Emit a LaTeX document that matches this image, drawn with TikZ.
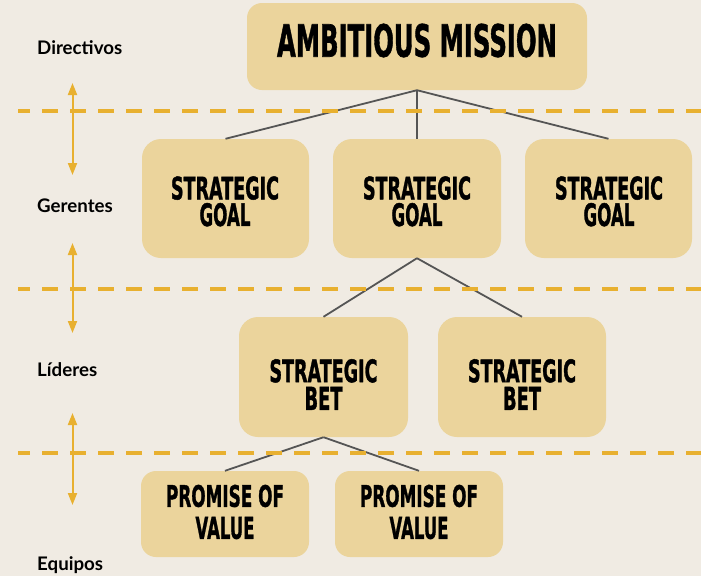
\documentclass[tikz,border=0pt]{standalone}
\usepackage{fontspec}
\usepackage{graphicx}
\usetikzlibrary{arrows.meta}
\newfontfamily\labfont{Lato}
\newfontfamily\heavyfont{DejaVu Sans}[BoldFeatures={FakeBold=1.5}]
\definecolor{bg}{HTML}{F0EBE3}
\definecolor{boxc}{HTML}{EBD49C}
\definecolor{dashc}{HTML}{E8B030}
\definecolor{linec}{HTML}{555555}
\newcommand{\hv}[3]{\resizebox{#1pt}{#2pt}{\heavyfont\bfseries #3}}
\begin{document}
\begin{tikzpicture}[x=1pt,y=-1pt,
  card/.style={fill=boxc, draw=none, rounded corners=#1, inner sep=0pt},
  txt/.style={inner sep=0pt, align=center, text=black},
  lab/.style={inner sep=0pt, anchor=base west, text=black, font=\labfont\bfseries\fontsize{18.7}{22}\selectfont},
  conn/.style={draw=linec, line width=1.8pt},
  dline/.style={draw=dashc, line width=4pt, dash pattern=on 16pt off 12pt, dash phase=4pt},
  varr/.style={draw=dashc, line width=2pt, {Triangle[width=9pt,length=12pt]}-{Triangle[width=9pt,length=12pt]}}]
\fill[bg] (0,0) rectangle (701,576);
\useasboundingbox (0,0) rectangle (701,576);

% boxes
\node[card=15pt, minimum width=340pt, minimum height=87pt] (mission) at (417,46.5) {};
\node[card=19pt, minimum width=167pt, minimum height=119pt] (g1) at (225.5,198.5) {};
\node[card=19pt, minimum width=168pt, minimum height=119pt] (g2) at (417,198.5) {};
\node[card=19pt, minimum width=167pt, minimum height=119pt] (g3) at (608.5,198.5) {};
\node[card=19pt, minimum width=169pt, minimum height=120pt] (b1) at (323.5,377) {};
\node[card=19pt, minimum width=168pt, minimum height=120pt] (b2) at (522,377) {};
\node[card=15pt, minimum width=168pt, minimum height=86pt] (p1) at (225,514) {};
\node[card=15pt, minimum width=168pt, minimum height=86pt] (p2) at (419,514) {};

% texts
\node[txt] (mt) at (417,40.5) {\hv{280}{33}{AMBITIOUS MISSION}};
\node[txt, font=\fontsize{23}{26.6}\selectfont] (g1t) at (225,201.4) {\hv{108}{23}{STRATEGIC}\\\hv{51}{23}{GOAL}};
\node[txt, font=\fontsize{23}{26.6}\selectfont] (g2t) at (417,201.4) {\hv{108}{23}{STRATEGIC}\\\hv{51}{23}{GOAL}};
\node[txt, font=\fontsize{23}{26.6}\selectfont] (g3t) at (609,201.4) {\hv{108}{23}{STRATEGIC}\\\hv{51}{23}{GOAL}};
\node[txt, font=\fontsize{23}{27.7}\selectfont] (b1t) at (323.5,384.5) {\hv{108}{23}{STRATEGIC}\\\hv{38}{23}{BET}};
\node[txt, font=\fontsize{23}{27.7}\selectfont] (b2t) at (522,384.5) {\hv{108}{23}{STRATEGIC}\\\hv{38}{23}{BET}};
\node[txt, font=\fontsize{22}{32}\selectfont] (p1t) at (225,512) {\hv{118}{22}{PROMISE OF}\\\hv{59}{22}{VALUE}};
\node[txt, font=\fontsize{22}{32}\selectfont] (p2t) at (419,512) {\hv{118}{22}{PROMISE OF}\\\hv{59}{22}{VALUE}};

% connectors
\draw[conn] (mission.south) -- (g1.north);
\draw[conn] (mission.south) -- (g2.north);
\draw[conn] (mission.south) -- (g3.north);
\draw[conn] (g2.south) -- (b1.north);
\draw[conn] (g2.south) -- (b2.north);
\draw[conn] (b1.south) -- (p1.north);
\draw[conn] (b1.south) -- (p2.north);

% dashed separators
\coordinate (d1l) at (18,110.7); \coordinate (d1r) at (701,110.7);
\coordinate (d2l) at (18,289);   \coordinate (d2r) at (701,289);
\coordinate (d3l) at (18,453);   \coordinate (d3r) at (701,453);
\draw[dline] (d1l) -- (d1r);
\draw[dline] (d2l) -- (d2r);
\draw[dline] (d3l) -- (d3r);

% vertical arrows
\coordinate (a1t) at (72.5,83);  \coordinate (a1b) at (72.5,175);
\coordinate (a2t) at (72.5,243); \coordinate (a2b) at (72.5,333);
\coordinate (a3t) at (72.5,413); \coordinate (a3b) at (72.5,505);
\draw[varr] (a1t) -- (a1b);
\draw[varr] (a2t) -- (a2b);
\draw[varr] (a3t) -- (a3b);

% level labels
\node[lab] (ldir) at (37,54) {Directivos};
\node[lab] (lger) at (37,212.7) {Gerentes};
\node[lab] (llid) at (37,376.7) {Líderes};
\node[lab] (lequ) at (37,570.7) {Equipos};
\end{tikzpicture}
\end{document}
